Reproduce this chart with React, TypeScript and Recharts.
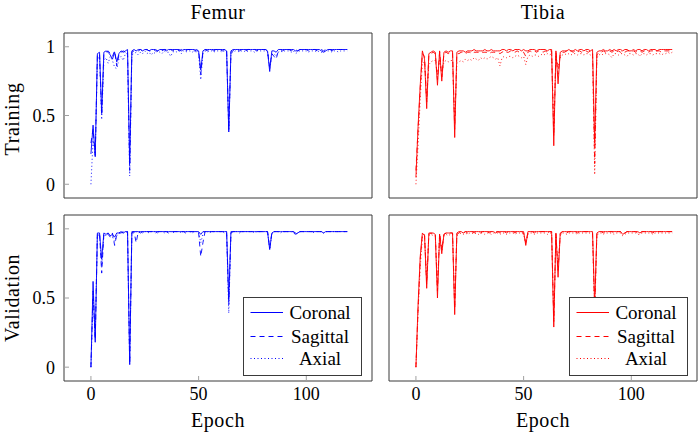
import React from 'react';
import { LineChart, Line, XAxis, YAxis, Legend } from 'recharts';

const FONT = "'Liberation Serif', 'DejaVu Serif', 'Noto Serif', 'Times New Roman', serif";
const SERIES = ['Coronal', 'Sagittal', 'Axial'];
const X_TICKS = [0, 50, 100];
const Y_TICKS = [0, 0.5, 1];
const X_DOMAIN: [number, number] = [-12.5, 130.5];
const Y_DOMAIN: [number, number] = [-0.1, 1.1];

// Femur – Training
const femurTrainCoronal = [
  0.22,0.43,0.20,0.95,0.96,0.52,0.96,0.97,0.96,0.94,0.91,0.96,0.89,0.95,0.97,0.96,0.97,0.98,0.15,0.97,
  0.98,0.97,0.98,0.98,0.97,0.98,0.98,0.97,0.98,0.98,0.98,0.97,0.98,0.98,0.98,0.97,0.98,0.98,0.98,0.98,
  0.98,0.98,0.97,0.98,0.98,0.98,0.98,0.98,0.98,0.97,0.97,0.83,0.97,0.98,0.98,0.98,0.98,0.98,0.98,0.98,
  0.98,0.98,0.98,0.97,0.38,0.97,0.98,0.98,0.98,0.98,0.98,0.98,0.98,0.98,0.98,0.98,0.98,0.98,0.98,0.98,
  0.98,0.98,0.97,0.82,0.97,0.97,0.96,0.98,0.98,0.98,0.98,0.98,0.98,0.98,0.98,0.97,0.97,0.98,0.98,0.98,
  0.98,0.98,0.98,0.98,0.98,0.98,0.98,0.97,0.96,0.97,0.98,0.98,0.98,0.98,0.98,0.98,0.98,0.98,0.98,0.98,
];
const femurTrainSagittal = [
  0.30,0.40,0.21,0.94,0.95,0.50,0.95,0.96,0.97,0.95,0.93,0.97,0.86,0.94,0.96,0.97,0.96,0.97,0.10,0.96,
  0.97,0.97,0.97,0.98,0.97,0.97,0.98,0.97,0.97,0.98,0.97,0.97,0.98,0.97,0.98,0.98,0.97,0.98,0.97,0.98,
  0.98,0.97,0.98,0.98,0.97,0.98,0.98,0.98,0.97,0.98,0.97,0.80,0.96,0.98,0.97,0.98,0.98,0.97,0.98,0.98,
  0.98,0.97,0.98,0.98,0.40,0.96,0.97,0.98,0.98,0.97,0.98,0.98,0.97,0.98,0.98,0.98,0.98,0.97,0.98,0.98,
  0.98,0.98,0.97,0.85,0.95,0.93,0.91,0.97,0.98,0.97,0.98,0.98,0.98,0.97,0.98,0.98,0.97,0.98,0.98,0.98,
  0.98,0.97,0.98,0.98,0.98,0.97,0.98,0.98,0.97,0.98,0.98,0.98,0.97,0.98,0.98,0.98,0.98,0.98,0.98,0.98,
];
const femurTrainAxial = [
  0.00,0.32,0.22,0.90,0.93,0.47,0.90,0.92,0.88,0.93,0.90,0.85,0.84,0.91,0.93,0.90,0.95,0.95,0.06,0.94,
  0.95,0.96,0.94,0.96,0.95,0.97,0.95,0.96,0.94,0.96,0.95,0.97,0.96,0.95,0.97,0.96,0.96,0.93,0.96,0.97,
  0.96,0.97,0.95,0.97,0.96,0.97,0.97,0.96,0.97,0.96,0.95,0.76,0.95,0.97,0.96,0.97,0.97,0.96,0.97,0.97,
  0.97,0.96,0.97,0.97,0.39,0.95,0.96,0.97,0.97,0.96,0.97,0.97,0.96,0.97,0.97,0.97,0.96,0.97,0.97,0.97,
  0.97,0.97,0.96,0.84,0.94,0.95,0.93,0.96,0.97,0.96,0.97,0.97,0.97,0.96,0.97,0.95,0.96,0.97,0.97,0.97,
  0.97,0.96,0.97,0.97,0.97,0.96,0.97,0.96,0.96,0.97,0.97,0.97,0.96,0.97,0.97,0.96,0.97,0.97,0.97,0.97,
];

// Tibia – Training
const tibiaTrainCoronal = [
  0.05,0.42,0.72,0.97,0.91,0.55,0.95,0.96,0.97,0.96,0.72,0.97,0.75,0.96,0.97,0.96,0.97,0.97,0.34,0.96,
  0.97,0.97,0.97,0.96,0.97,0.97,0.97,0.98,0.97,0.97,0.97,0.97,0.98,0.97,0.97,0.98,0.97,0.97,0.97,0.97,
  0.98,0.98,0.97,0.98,0.98,0.97,0.98,0.98,0.98,0.97,0.98,0.97,0.97,0.98,0.98,0.98,0.97,0.98,0.98,0.98,
  0.98,0.97,0.98,0.98,0.28,0.97,0.73,0.96,0.97,0.97,0.97,0.98,0.97,0.97,0.98,0.97,0.98,0.98,0.97,0.98,
  0.98,0.97,0.98,0.30,0.96,0.97,0.97,0.98,0.97,0.97,0.98,0.97,0.98,0.97,0.98,0.98,0.97,0.98,0.98,0.97,
  0.97,0.98,0.97,0.98,0.98,0.97,0.98,0.98,0.97,0.98,0.98,0.98,0.97,0.98,0.98,0.98,0.98,0.98,0.98,0.98,
];
const tibiaTrainSagittal = [
  0.10,0.40,0.70,0.95,0.93,0.60,0.94,0.95,0.96,0.95,0.76,0.96,0.78,0.95,0.96,0.95,0.96,0.96,0.40,0.95,
  0.95,0.96,0.96,0.95,0.96,0.96,0.95,0.96,0.96,0.96,0.95,0.96,0.96,0.96,0.95,0.96,0.96,0.96,0.96,0.95,
  0.96,0.97,0.96,0.96,0.97,0.96,0.96,0.97,0.96,0.96,0.96,0.93,0.96,0.97,0.96,0.97,0.96,0.97,0.97,0.96,
  0.97,0.96,0.97,0.97,0.35,0.96,0.80,0.95,0.96,0.96,0.97,0.96,0.97,0.96,0.97,0.96,0.97,0.96,0.97,0.97,
  0.96,0.97,0.96,0.15,0.94,0.96,0.96,0.97,0.96,0.96,0.97,0.96,0.97,0.96,0.97,0.96,0.97,0.96,0.97,0.97,
  0.96,0.97,0.96,0.97,0.97,0.96,0.97,0.97,0.96,0.97,0.97,0.96,0.97,0.97,0.96,0.97,0.97,0.97,0.97,0.97,
];
const tibiaTrainAxial = [
  0.00,0.28,0.62,0.88,0.89,0.62,0.87,0.89,0.90,0.90,0.80,0.90,0.80,0.89,0.90,0.89,0.90,0.90,0.45,0.88,
  0.89,0.90,0.89,0.91,0.90,0.91,0.90,0.92,0.91,0.90,0.92,0.91,0.92,0.91,0.92,0.93,0.92,0.91,0.92,0.86,
  0.92,0.93,0.92,0.93,0.93,0.92,0.93,0.94,0.93,0.92,0.93,0.87,0.93,0.94,0.93,0.94,0.94,0.93,0.94,0.95,
  0.94,0.95,0.94,0.95,0.40,0.93,0.85,0.92,0.94,0.95,0.94,0.95,0.94,0.95,0.95,0.94,0.95,0.95,0.94,0.95,
  0.95,0.94,0.95,0.07,0.92,0.94,0.95,0.94,0.95,0.95,0.94,0.92,0.95,0.95,0.94,0.95,0.95,0.94,0.93,0.95,
  0.95,0.94,0.95,0.95,0.93,0.95,0.95,0.94,0.95,0.95,0.94,0.95,0.95,0.95,0.94,0.95,0.95,0.96,0.95,0.96,
];

// Femur – Validation
const femurValCoronal = [
  0.00,0.62,0.18,0.97,0.97,0.78,0.97,0.96,0.97,0.95,0.96,0.94,0.97,0.97,0.98,0.97,0.98,0.98,0.02,0.98,
  0.98,0.98,0.98,0.97,0.98,0.98,0.98,0.98,0.98,0.98,0.98,0.98,0.98,0.98,0.98,0.98,0.98,0.98,0.98,0.98,
  0.98,0.98,0.98,0.98,0.98,0.98,0.98,0.98,0.98,0.98,0.98,0.96,0.98,0.98,0.98,0.98,0.98,0.98,0.98,0.98,
  0.98,0.98,0.98,0.98,0.49,0.98,0.98,0.98,0.98,0.98,0.98,0.98,0.98,0.98,0.98,0.98,0.98,0.98,0.98,0.98,
  0.98,0.98,0.98,0.85,0.97,0.98,0.98,0.98,0.98,0.98,0.98,0.98,0.98,0.98,0.98,0.96,0.97,0.98,0.98,0.98,
  0.98,0.98,0.98,0.98,0.98,0.98,0.98,0.98,0.97,0.98,0.98,0.98,0.98,0.98,0.98,0.98,0.98,0.98,0.98,0.98,
];
const femurValSagittal = [
  0.00,0.55,0.20,0.96,0.97,0.68,0.96,0.97,0.96,0.94,0.97,0.88,0.96,0.97,0.97,0.98,0.97,0.98,0.03,0.97,
  0.98,0.90,0.98,0.98,0.98,0.97,0.98,0.98,0.98,0.98,0.97,0.98,0.98,0.98,0.98,0.98,0.97,0.98,0.98,0.98,
  0.98,0.98,0.98,0.98,0.97,0.98,0.98,0.98,0.98,0.98,0.97,0.80,0.90,0.98,0.98,0.98,0.98,0.98,0.98,0.98,
  0.98,0.98,0.98,0.98,0.45,0.97,0.98,0.98,0.98,0.98,0.98,0.98,0.98,0.98,0.98,0.98,0.98,0.98,0.98,0.98,
  0.98,0.98,0.98,0.86,0.97,0.98,0.98,0.98,0.98,0.98,0.98,0.98,0.98,0.98,0.98,0.97,0.96,0.98,0.98,0.98,
  0.98,0.98,0.98,0.98,0.98,0.98,0.98,0.98,0.98,0.98,0.98,0.98,0.98,0.98,0.98,0.98,0.98,0.98,0.98,0.98,
];
const femurValAxial = [
  0.00,0.50,0.22,0.95,0.96,0.72,0.96,0.95,0.97,0.95,0.94,0.91,0.95,0.97,0.97,0.97,0.98,0.97,0.02,0.97,
  0.97,0.98,0.97,0.98,0.97,0.98,0.98,0.97,0.98,0.98,0.98,0.97,0.98,0.98,0.97,0.98,0.98,0.98,0.97,0.98,
  0.98,0.98,0.97,0.98,0.98,0.98,0.98,0.97,0.98,0.98,0.98,0.90,0.96,0.98,0.98,0.97,0.98,0.98,0.98,0.98,
  0.98,0.98,0.97,0.98,0.39,0.97,0.98,0.98,0.98,0.97,0.98,0.98,0.98,0.98,0.98,0.98,0.97,0.98,0.98,0.98,
  0.98,0.98,0.98,0.85,0.96,0.98,0.98,0.98,0.97,0.98,0.98,0.98,0.98,0.98,0.97,0.96,0.97,0.98,0.98,0.98,
  0.98,0.98,0.98,0.97,0.98,0.98,0.98,0.98,0.97,0.98,0.98,0.98,0.98,0.98,0.98,0.98,0.98,0.98,0.98,0.98,
];

// Tibia – Validation
const tibiaValCoronal = [
  0.00,0.45,0.80,0.97,0.95,0.57,0.97,0.97,0.97,0.96,0.50,0.96,0.82,0.96,0.97,0.97,0.97,0.97,0.38,0.97,
  0.98,0.98,0.97,0.98,0.98,0.98,0.98,0.98,0.98,0.98,0.98,0.98,0.98,0.98,0.98,0.98,0.98,0.97,0.98,0.98,
  0.98,0.98,0.98,0.98,0.98,0.98,0.98,0.98,0.98,0.98,0.98,0.88,0.98,0.98,0.98,0.98,0.98,0.98,0.98,0.98,
  0.98,0.98,0.98,0.98,0.29,0.97,0.65,0.97,0.98,0.98,0.98,0.98,0.98,0.98,0.98,0.98,0.98,0.98,0.98,0.98,
  0.98,0.98,0.98,0.45,0.97,0.98,0.98,0.98,0.98,0.98,0.98,0.98,0.98,0.98,0.98,0.98,0.96,0.97,0.98,0.98,
  0.98,0.98,0.98,0.98,0.97,0.98,0.98,0.98,0.98,0.98,0.98,0.98,0.98,0.98,0.98,0.98,0.98,0.98,0.98,0.98,
];
const tibiaValSagittal = [
  0.00,0.42,0.78,0.96,0.96,0.60,0.96,0.97,0.96,0.96,0.55,0.97,0.85,0.96,0.97,0.96,0.97,0.97,0.42,0.96,
  0.97,0.98,0.97,0.98,0.97,0.98,0.98,0.97,0.98,0.98,0.97,0.98,0.98,0.98,0.97,0.98,0.98,0.98,0.98,0.97,
  0.98,0.98,0.97,0.98,0.98,0.98,0.97,0.98,0.98,0.98,0.97,0.90,0.97,0.98,0.98,0.97,0.98,0.98,0.98,0.98,
  0.98,0.97,0.98,0.98,0.33,0.96,0.70,0.96,0.98,0.98,0.97,0.98,0.98,0.98,0.98,0.97,0.98,0.98,0.98,0.98,
  0.98,0.98,0.97,0.40,0.96,0.98,0.98,0.97,0.98,0.98,0.98,0.98,0.97,0.98,0.98,0.98,0.96,0.97,0.98,0.98,
  0.98,0.98,0.98,0.97,0.97,0.98,0.98,0.98,0.98,0.98,0.97,0.98,0.98,0.98,0.98,0.98,0.98,0.98,0.98,0.98,
];
const tibiaValAxial = [
  0.00,0.40,0.72,0.94,0.95,0.62,0.95,0.96,0.95,0.95,0.58,0.95,0.84,0.95,0.96,0.95,0.96,0.96,0.45,0.95,
  0.96,0.97,0.96,0.97,0.96,0.97,0.97,0.96,0.97,0.96,0.97,0.97,0.96,0.97,0.97,0.96,0.97,0.97,0.97,0.96,
  0.97,0.97,0.96,0.97,0.97,0.97,0.96,0.97,0.97,0.97,0.96,0.89,0.96,0.97,0.97,0.96,0.97,0.97,0.97,0.97,
  0.97,0.96,0.97,0.97,0.35,0.95,0.72,0.95,0.97,0.97,0.96,0.97,0.97,0.97,0.97,0.96,0.97,0.97,0.97,0.97,
  0.97,0.97,0.96,0.38,0.95,0.97,0.97,0.96,0.97,0.97,0.97,0.97,0.96,0.97,0.97,0.97,0.95,0.96,0.97,0.97,
  0.97,0.97,0.97,0.96,0.96,0.97,0.97,0.97,0.97,0.97,0.96,0.97,0.97,0.97,0.97,0.97,0.97,0.97,0.97,0.97,
];

const DASHES: Record<string, string | undefined> = {
  Coronal: undefined,
  Sagittal: '5 4',
  Axial: '1 2.5',
};

function build(c: number[], s: number[], a: number[]) {
  return c.map((v, i) => ({ epoch: i, Coronal: v, Sagittal: s[i], Axial: a[i] }));
}

const FRAME = '#3a3a3a';
const TICKLINE = '#a0a0a0';
const tickText = { fill: '#000', fontSize: 18, fontFamily: FONT, style: { fontFamily: FONT } };
const LEGEND_ROWS = [14.5, 38.5, 60.5];

function LegendBox(props: any) {
  const color = props.lineColor;
  return (
    <div style={{ width: 119, height: 79, boxSizing: 'border-box', border: `1px solid ${FRAME}`, background: '#fff' }}>
      <svg width={117} height={77} style={{ display: 'block' }}>
        {SERIES.map((name, i) => {
          const cy = LEGEND_ROWS[i];
          const dash = DASHES[name];
          return (
            <g key={'row-' + name}>
              <path d={`M6.5,${cy}H39`} fill="none" style={{ stroke: color, strokeWidth: 1, strokeDasharray: dash ? dash : 'none' }} />
              <text x={76} y={cy + 6.5} textAnchor="middle" fontSize={19} fill="#000" style={{ fontFamily: FONT }}>{name}</text>
            </g>
          );
        })}
      </svg>
    </div>
  );
}

type PanelProps = {
  data: any[];
  color: string;
  x: number;
  y: number;
  w: number;
  h: number;
  leftPad: number;
  rightPad: number;
  yAxisW: number;
  topPad: number;
  bottomPad: number;
  xAxisH: number;
  yLabels: boolean;
  xLabels: boolean;
  legend?: { left: number; top: number };
};

function Panel(p: PanelProps) {
  return (
    <div style={{ position: 'absolute', left: p.x, top: p.y, fontFamily: FONT }}>
      <LineChart width={p.w} height={p.h} data={p.data} margin={{ top: p.topPad, right: p.rightPad, bottom: p.bottomPad, left: p.leftPad }} style={{ fontFamily: FONT }}>
        <XAxis xAxisId="b" dataKey="epoch" type="number" domain={X_DOMAIN} ticks={X_TICKS} interval={0} allowDataOverflow
          height={p.xAxisH} tick={p.xLabels ? tickText : false} tickSize={-5} tickMargin={11}
          axisLine={{ stroke: FRAME }} tickLine={{ stroke: TICKLINE }} />
        <XAxis xAxisId="t" orientation="top" dataKey="epoch" type="number" domain={X_DOMAIN} ticks={X_TICKS} interval={0} allowDataOverflow
          height={1} tick={false} tickSize={-5} axisLine={{ stroke: FRAME }} tickLine={{ stroke: TICKLINE }} />
        <YAxis yAxisId="l" type="number" domain={Y_DOMAIN} ticks={Y_TICKS} interval={0} allowDataOverflow
          width={p.yAxisW} tick={p.yLabels ? tickText : false} tickSize={-5} tickMargin={14}
          axisLine={{ stroke: FRAME }} tickLine={{ stroke: TICKLINE }} />
        <YAxis yAxisId="r" orientation="right" type="number" domain={Y_DOMAIN} ticks={Y_TICKS} interval={0} allowDataOverflow
          width={1} tick={false} tickSize={-5} axisLine={{ stroke: FRAME }} tickLine={{ stroke: TICKLINE }} />
        {SERIES.map((name) => (
          <Line key={name} xAxisId="b" yAxisId="l" type="linear" dataKey={name} name={name} stroke={p.color}
            strokeWidth={0.9} strokeDasharray={DASHES[name]} dot={false} activeDot={false} isAnimationActive={false} />
        ))}
        {p.legend && (
          <Legend layout="horizontal" verticalAlign="middle" align="center" width={119} height={79}
            wrapperStyle={{ left: p.legend.left, top: p.legend.top, width: 119, height: 79, margin: 0, padding: 0 }}
            content={<LegendBox lineColor={p.color} />} />
        )}
      </LineChart>
    </div>
  );
}

export default function App() {
  const ft = build(femurTrainCoronal, femurTrainSagittal, femurTrainAxial);
  const tt = build(tibiaTrainCoronal, tibiaTrainSagittal, tibiaTrainAxial);
  const fv = build(femurValCoronal, femurValSagittal, femurValAxial);
  const tv = build(tibiaValCoronal, tibiaValSagittal, tibiaValAxial);
  const blue = '#0000ff';
  const red = '#ff0000';
  return (
    <div style={{ position: 'absolute', left: 0, top: 0, width: 699, height: 433, background: '#fff', overflow: 'hidden', fontFamily: FONT }}>
      <Panel data={ft} color={blue} x={0} y={0} w={373} h={200} leftPad={0} rightPad={0} yAxisW={64} topPad={32} bottomPad={1} xAxisH={1} yLabels xLabels={false} />
      <Panel data={tt} color={red} x={373} y={0} w={326} h={200} leftPad={15} rightPad={1} yAxisW={1} topPad={32} bottomPad={1} xAxisH={1} yLabels={false} xLabels={false} />
      <Panel data={fv} color={blue} x={0} y={200} w={373} h={233} leftPad={0} rightPad={0} yAxisW={64} topPad={14} bottomPad={0} xAxisH={52} yLabels xLabels legend={{ left: 243, top: 97 }} />
      <Panel data={tv} color={red} x={373} y={200} w={326} h={233} leftPad={15} rightPad={1} yAxisW={1} topPad={14} bottomPad={0} xAxisH={52} yLabels={false} xLabels legend={{ left: 196, top: 97 }} />
      <svg width={699} height={433} style={{ position: 'absolute', left: 0, top: 0, pointerEvents: 'none', fontFamily: FONT }}>
        <g fontSize={20} fill="#000" textAnchor="middle" letterSpacing={0.6} style={{ fontFamily: FONT }}>
          <text x={218} y={19}>Femur</text>
          <text x={543} y={19}>Tibia</text>
          <text x={218} y={427}>Epoch</text>
          <text x={543} y={427}>Epoch</text>
          <text transform="translate(19,119) rotate(-90)">Training</text>
          <text transform="translate(19,298) rotate(-90)">Validation</text>
        </g>
      </svg>
    </div>
  );
}
